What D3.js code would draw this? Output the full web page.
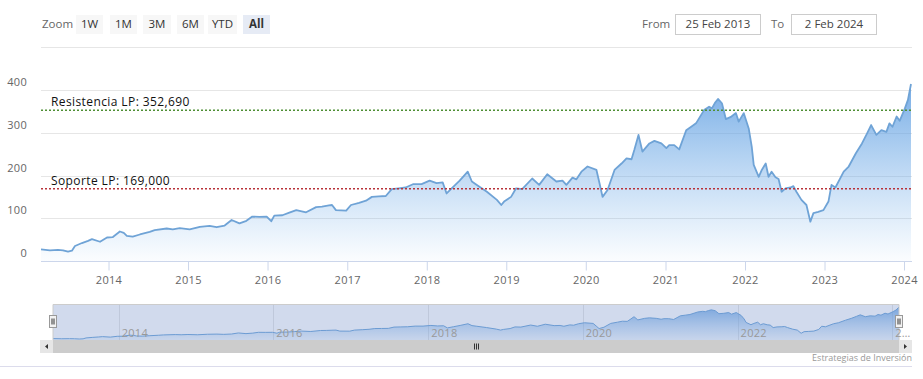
<!DOCTYPE html>
<html>
<head>
<meta charset="utf-8">
<script src="https://cdn.jsdelivr.net/npm/d3@7"></script>
<style>
  html, body { margin: 0; padding: 0; background: #fff; }
  svg { display: block; font-family: "Open Sans", "Noto Sans", sans-serif; }
</style>
</head>
<body>
<svg id="chart" width="923" height="379"></svg>
<script>
// ---------- DATA ----------
const dates = [
  "2013-02-25","2013-04-07","2013-05-14","2013-06-06","2013-06-29","2013-07-17","2013-07-31","2013-09-01","2013-09-29","2013-10-17","2013-11-23","2013-12-25",
  "2014-01-21","2014-02-22","2014-03-12","2014-03-26","2014-04-22","2014-05-25","2014-07-09","2014-08-01","2014-09-25","2014-10-23","2014-11-24",
  "2015-01-09","2015-02-24","2015-04-10","2015-05-12","2015-06-18","2015-07-20","2015-08-25","2015-09-26","2015-10-23","2015-11-24","2015-12-28",
  "2016-01-18","2016-02-01","2016-03-09","2016-04-10","2016-05-12","2016-06-26","2016-08-11","2016-09-07","2016-10-09","2016-10-23","2016-11-10","2016-12-27",
  "2017-01-18","2017-02-24","2017-03-28","2017-04-24","2017-05-26","2017-06-27","2017-07-24","2017-08-25","2017-09-26","2017-11-01","2017-12-08",
  "2018-01-14","2018-02-15","2018-03-15","2018-04-02","2018-04-30","2018-06-01","2018-07-08","2018-07-27","2018-08-19","2018-10-04","2018-11-19","2018-12-09","2018-12-22",
  "2019-01-23","2019-02-15","2019-03-15","2019-04-30","2019-06-01","2019-07-08","2019-08-19","2019-09-16","2019-10-04","2019-11-01","2019-11-19","2019-12-12",
  "2020-01-09","2020-02-19","2020-03-04","2020-03-18","2020-04-10","2020-05-12","2020-06-13","2020-07-06","2020-07-29","2020-08-11","2020-08-30","2020-09-17","2020-10-19","2020-11-11","2020-12-13",
  "2021-01-05","2021-01-18","2021-02-10","2021-03-05","2021-04-06","2021-04-29","2021-05-21","2021-06-27","2021-07-20","2021-08-02","2021-08-16","2021-08-30","2021-09-17","2021-10-05","2021-10-28","2021-11-20","2021-12-03","2021-12-26",
  "2022-01-18","2022-02-01","2022-02-10","2022-03-05","2022-03-19","2022-04-06","2022-04-19","2022-05-03","2022-05-21","2022-06-04","2022-06-18","2022-07-06","2022-07-29","2022-08-11","2022-08-25","2022-09-17","2022-10-10","2022-10-28","2022-11-11","2022-12-03","2022-12-27",
  "2023-01-19","2023-02-02","2023-02-20","2023-03-30","2023-04-22","2023-05-25","2023-06-22","2023-07-16","2023-08-03","2023-08-27","2023-09-19","2023-10-12","2023-10-26","2023-11-09","2023-11-28","2023-12-12",
  "2024-01-05","2024-01-19","2024-02-02"
];
const values = [
  27,25,26,25,22,24,35,42,47,51,45,55,
  56,69,66,59,57,62,68,72,76,74,77,
  74,80,82,79,83,96,88,94,104,103,104,
  93,106,107,113,119,114,126,127,130,131,119,118,
  131,136,141,150,151,152,168,170,172,180,180,
  188,182,184,158,172,188,209,186,178,162,143,131,139,
  150,170,168,193,178,203,186,188,178,195,191,209,
  221,213,182,150,166,213,228,240,238,260,295,256,275,281,275,
  264,271,271,261,306,314,322,353,361,357,370,379,369,332,337,346,326,346,
  310,267,225,197,213,228,197,209,196,192,162,170,172,175,162,143,131,92,112,115,119,
  139,178,172,209,221,252,275,299,318,295,306,302,322,314,338,328,
  357,377,414
];
const yTicks = [0, 100, 200, 300, 400, 500];
const plotLineValues = [352.69, 169];
const plotLineLabels = ["Resistencia LP: 352,690", "Soporte LP: 169,000"];
const plotLineColors = ["#4f8f35", "#b8333a"];
const zoomButtons = ["1W", "1M", "3M", "6M", "YTD", "All"];
const fromLabel = "25 Feb 2013";
const toLabel = "2 Feb 2024";
const creditText = "Estrategias de Inversión";

// ---------- SETUP ----------
const parse = d3.timeParse("%Y-%m-%d");
const data = dates.map((d, i) => ({ date: parse(d), value: values[i] }));
const svg = d3.select("#chart");

const plot = { left: 41, right: 911, top: 47.25, bottom: 261 };
const x = d3.scaleTime().domain([data[0].date, data[data.length - 1].date]).range([plot.left, plot.right]);
const y = d3.scaleLinear().domain([0, 500]).range([plot.bottom, plot.top]);

const defs = svg.append("defs");
const grad = defs.append("linearGradient").attr("id", "areaGrad")
  .attr("gradientUnits", "userSpaceOnUse").attr("x1", 0).attr("x2", 0)
  .attr("y1", 80).attr("y2", plot.bottom);
grad.append("stop").attr("offset", "0%").attr("stop-color", "#5b9be0").attr("stop-opacity", 0.85);
grad.append("stop").attr("offset", "100%").attr("stop-color", "#7cb5ec").attr("stop-opacity", 0.03);

const ngrad = defs.append("linearGradient").attr("id", "navGrad")
  .attr("gradientUnits", "userSpaceOnUse").attr("x1", 0).attr("x2", 0)
  .attr("y1", 305).attr("y2", 340);
ngrad.append("stop").attr("offset", "0%").attr("stop-color", "#5b9be0").attr("stop-opacity", 0.8);
ngrad.append("stop").attr("offset", "100%").attr("stop-color", "#7cb5ec").attr("stop-opacity", 0.1);

// ---------- GRID ----------
svg.append("g").selectAll("line").data(yTicks).join("line")
  .attr("x1", plot.left).attr("x2", 912)
  .attr("y1", d => Math.round(y(d)) + 0.5).attr("y2", d => Math.round(y(d)) + 0.5)
  .attr("stroke", "#e6e6e6").attr("stroke-width", 1);

// y labels (500 hidden as in reference)
svg.append("g").selectAll("text").data(yTicks.filter(d => d < 500)).join("text")
  .attr("x", 27).attr("y", d => y(d) - 4)
  .attr("text-anchor", "end").attr("font-size", 11).attr("fill", "#666").attr("letter-spacing", "0.3px")
  .text(d => d);

// ---------- AREA ----------
const area = d3.area().x(d => x(d.date)).y0(y(0)).y1(d => y(d.value));
const line = d3.line().x(d => x(d.date)).y(d => y(d.value));
svg.append("path").datum(data).attr("d", area).attr("fill", "url(#areaGrad)");
svg.append("path").datum(data).attr("d", line).attr("fill", "none")
  .attr("stroke", "#6fa3d6").attr("stroke-width", 1.8).attr("stroke-linejoin", "round");

// ---------- X AXIS ----------
const xAxis = d3.axisBottom(x).ticks(d3.timeYear.every(1)).tickFormat(d3.timeFormat("%Y")).tickSize(9).tickPadding(6);
const gx = svg.append("g").attr("transform", `translate(0,${plot.bottom + 0.5})`).call(xAxis);
gx.select(".domain").attr("d", `M${plot.left},0H912`).attr("stroke", "#ccd6eb");
gx.selectAll(".tick line").attr("stroke", "#ccd6eb");
gx.selectAll(".tick text").attr("fill", "#666").attr("font-size", 11)
  .attr("font-family", "'Open Sans', sans-serif").attr("letter-spacing", "0.3px");

// ---------- PLOT LINES ----------
const pl = svg.append("g");
plotLineValues.forEach((v, i) => {
  pl.append("line").attr("x1", plot.left).attr("x2", 912)
    .attr("y1", y(v)).attr("y2", y(v))
    .attr("stroke", plotLineColors[i]).attr("stroke-width", 1.3)
    .attr("stroke-dasharray", "2,2");
  pl.append("text").attr("x", 51).attr("y", y(v) - 4)
    .attr("font-size", 12).attr("letter-spacing", "0.4px").attr("fill", "#111").text(plotLineLabels[i]);
});

// ---------- RANGE SELECTOR ----------
svg.append("text").attr("x", 42).attr("y", 28).attr("font-size", 11.5).attr("fill", "#666").text("Zoom");
const btnX = [76, 110, 143, 177, 208, 243];
const btnW = [27, 27, 28, 27, 29, 27];
zoomButtons.forEach((b, i) => {
  const sel = i === zoomButtons.length - 1;
  svg.append("rect").attr("x", btnX[i]).attr("y", 15).attr("width", btnW[i]).attr("height", 19)
    .attr("fill", sel ? "#e6ebf5" : "#f7f7f7");
  svg.append("text").attr("x", btnX[i] + btnW[i] / 2).attr("y", 28)
    .attr("text-anchor", "middle").attr("font-size", 11.5)
    .attr("font-weight", sel ? "bold" : "normal").attr("fill", "#333").text(b);
});
svg.append("text").attr("x", 642).attr("y", 28).attr("font-size", 11.5).attr("fill", "#666").text("From");
svg.append("rect").attr("x", 675.5).attr("y", 14.5).attr("width", 85).attr("height", 20)
  .attr("fill", "#fff").attr("stroke", "#cccccc");
svg.append("text").attr("x", 718).attr("y", 28).attr("text-anchor", "middle").attr("font-size", 11.5).attr("fill", "#444").text(fromLabel);
svg.append("text").attr("x", 771).attr("y", 28).attr("font-size", 11.5).attr("fill", "#666").text("To");
svg.append("rect").attr("x", 791.5).attr("y", 14.5).attr("width", 85).attr("height", 20)
  .attr("fill", "#fff").attr("stroke", "#cccccc");
svg.append("text").attr("x", 834).attr("y", 28).attr("text-anchor", "middle").attr("font-size", 11.5).attr("fill", "#444").text(toLabel);

// ---------- NAVIGATOR ----------
const nav = { left: 53, right: 899, top: 304, bottom: 340 };
const xn = d3.scaleTime().domain(x.domain()).range([nav.left, nav.right]);
const yn = d3.scaleLinear().domain(d3.extent(values)).range([339, 307]);
const ng = svg.append("g");
const navTicks = xn.ticks(d3.timeYear.every(2));
ng.selectAll("line.ngrid").data(navTicks).join("line").attr("class", "ngrid")
  .attr("x1", d => Math.round(xn(d)) + 0.5).attr("x2", d => Math.round(xn(d)) + 0.5)
  .attr("y1", nav.top).attr("y2", nav.bottom).attr("stroke", "#e6e6e6");
const narea = d3.area().x(d => xn(d.date)).y0(nav.bottom).y1(d => yn(d.value));
const nline = d3.line().x(d => xn(d.date)).y(d => yn(d.value));
ng.append("path").datum(data).attr("d", narea).attr("fill", "url(#navGrad)");
ng.append("path").datum(data).attr("d", nline).attr("fill", "none").attr("stroke", "#6fa6da").attr("stroke-width", 1);
// selection mask (full range selected)
ng.append("rect").attr("x", nav.left).attr("y", nav.top).attr("width", nav.right - nav.left).attr("height", nav.bottom - nav.top)
  .attr("fill", "rgba(102,133,194,0.3)");
ng.append("path").attr("d", `M40,${nav.bottom + 0.5}H${nav.left}V${nav.top + 0.5}H${nav.right}V${nav.bottom + 0.5}H912`)
  .attr("fill", "none").attr("stroke", "#cccccc");
// nav labels
const navFmt = d3.timeFormat("%Y");
ng.selectAll("text").data(navTicks).join("text")
  .attr("x", d => xn(d) + 3).attr("y", 337)
  .attr("font-size", 11).attr("fill", "#999").attr("letter-spacing", "0.3px")
  .text(d => (xn(d) > 880 ? navFmt(d).slice(0, 1) + "…" : navFmt(d)));
// handles
[nav.left, nav.right].forEach(hx => {
  const hg = ng.append("g").attr("transform", `translate(${Math.round(hx) - 3.5},315.5)`);
  hg.append("rect").attr("width", 7).attr("height", 12).attr("fill", "#f2f2f2").attr("stroke", "#999");
  hg.append("line").attr("x1", 2.5).attr("x2", 2.5).attr("y1", 3).attr("y2", 9).attr("stroke", "#333");
  hg.append("line").attr("x1", 4.5).attr("x2", 4.5).attr("y1", 3).attr("y2", 9).attr("stroke", "#333");
});

// ---------- SCROLLBAR ----------
const sb = svg.append("g");
sb.append("rect").attr("x", 40).attr("y", 340).attr("width", 872).attr("height", 13).attr("fill", "#f2f2f2");
sb.append("rect").attr("x", 53).attr("y", 340).attr("width", 846).attr("height", 13).attr("fill", "#cccccc");
sb.append("rect").attr("x", 40).attr("y", 340).attr("width", 13).attr("height", 13).attr("fill", "#e6e6e6");
sb.append("rect").attr("x", 899).attr("y", 340).attr("width", 13).attr("height", 13).attr("fill", "#e6e6e6");
sb.append("path").attr("d", "M48,344L45,346.5L48,349Z").attr("fill", "#333");
sb.append("path").attr("d", "M904,344L907,346.5L904,349Z").attr("fill", "#333");
[-2, 0, 2].forEach(o => {
  sb.append("line").attr("x1", 476.5 + o).attr("x2", 476.5 + o).attr("y1", 343.5).attr("y2", 349.5)
    .attr("stroke", "#333").attr("stroke-width", 1);
});

// ---------- CREDITS & FRAME ----------
svg.append("text").attr("x", 912).attr("y", 361).attr("text-anchor", "end")
  .attr("font-size", 9).attr("fill", "#999").text(creditText);
svg.append("line").attr("x1", 0).attr("x2", 912).attr("y1", 366.5).attr("y2", 366.5).attr("stroke", "#dcdcec");
</script>
</body>
</html>
